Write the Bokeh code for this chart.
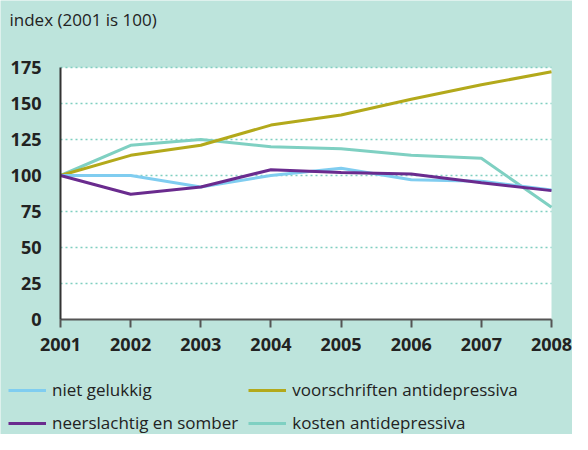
from bokeh.plotting import figure
from bokeh.models import Legend, LegendItem, Label, FixedTicker, Range1d
from bokeh.embed import file_html
from bokeh.resources import INLINE

years = [2001, 2002, 2003, 2004, 2005, 2006, 2007, 2008]
niet_gelukkig = [100, 100, 92, 100, 105, 97, 96, 90]
neerslachtig = [100, 87, 92, 104, 102, 101, 95, 89.5]
voorschriften = [100, 114, 121, 135, 142, 153, 163, 172]
kosten = [100, 121, 125, 120, 118.5, 114, 112, 78]
y_ticks = [0, 25, 50, 75, 100, 125, 150, 175]
title_text = "index (2001 is 100)"

BG = "#bde4dc"
FONT = "Open Sans"
TXT = "#222222"

# layout in pixels
W, H = 572, 434
PX_L, PX_R, PY_T, PY_B = 60, 551, 67, 319
sx = (years[-1] - years[0]) / (PX_R - PX_L)
sy = (y_ticks[-1] - y_ticks[0]) / (PY_B - PY_T)

p = figure(width=W, height=H, output_backend="svg", toolbar_location=None,
           x_range=Range1d(years[0] - PX_L * sx, years[-1] + (W - PX_R) * sx),
           y_range=Range1d(y_ticks[0] - (H - PY_B) * sy, y_ticks[-1] + PY_T * sy),
           min_border=0)
p.title.visible = False
p.background_fill_color = BG
p.border_fill_color = BG
p.outline_line_color = None
p.xgrid.visible = False
p.ygrid.visible = False

# white plotting area
p.quad(left=years[0], right=years[-1], bottom=y_ticks[0], top=y_ticks[-1],
       fill_color="white", line_color=None)
# dotted horizontal gridlines
p.segment(x0=years[0], x1=years[-1], y0=y_ticks[1:], y1=y_ticks[1:],
          line_color="#7fcfc0", line_dash="2 3", line_width=1.5)

p.xaxis.ticker = FixedTicker(ticks=years)
p.yaxis.ticker = FixedTicker(ticks=y_ticks)
p.xaxis.fixed_location = y_ticks[0]
p.yaxis.fixed_location = years[0]
p.xaxis.bounds = (years[0], years[-1])
p.yaxis.bounds = (y_ticks[0], y_ticks[-1])

for ax in (p.xaxis, p.yaxis):
    ax.major_label_text_font = FONT
    ax.major_label_text_font_style = "bold"
    ax.major_label_text_font_size = "18px"
    ax.major_label_text_color = TXT
    ax.minor_tick_line_color = None
    ax.axis_line_width = 2

p.yaxis.axis_line_color = "#333333"
p.yaxis.major_tick_line_color = None
p.yaxis.major_tick_out = 0
p.yaxis.major_tick_in = 0
p.yaxis.major_label_standoff = 19
p.xaxis.axis_line_color = "#555555"
p.xaxis.major_tick_line_color = "#555555"
p.xaxis.major_tick_line_width = 2
p.xaxis.major_tick_out = 8
p.xaxis.major_tick_in = 0
p.xaxis.major_label_standoff = 10

r_kosten = p.line(years, kosten, line_color="#7fd0c2", line_width=3)
r_voor = p.line(years, voorschriften, line_color="#b3a91b", line_width=3)
r_niet = p.line(years, niet_gelukkig, line_color="#80cdf0", line_width=3)
r_neer = p.line(years, neerslachtig, line_color="#6a2b8e", line_width=3)

# items fill column by column
legend = Legend(items=[
    LegendItem(label="niet gelukkig", renderers=[r_niet]),
    LegendItem(label="neerslachtig en somber", renderers=[r_neer]),
    LegendItem(label="voorschriften antidepressiva", renderers=[r_voor]),
    LegendItem(label="kosten antidepressiva", renderers=[r_kosten]),
], ncols=2, location=(8, 0))
legend.background_fill_alpha = 0
legend.border_line_alpha = 0
legend.padding = 0
legend.margin = 0
legend.spacing = 10
legend.glyph_width = 38
legend.glyph_height = 20
legend.label_width = 182
legend.label_standoff = 6
legend.label_text_font = FONT
legend.label_text_font_size = "17px"
legend.label_text_color = TXT
p.add_layout(legend)

title = Label(x=9, y=H - 19, x_units="screen", y_units="screen", text=title_text,
              text_font=FONT, text_font_size="17px", text_color=TXT,
              text_baseline="middle", text_align="left")
p.add_layout(title)

open("out.html", "w").write(file_html(p, INLINE))
